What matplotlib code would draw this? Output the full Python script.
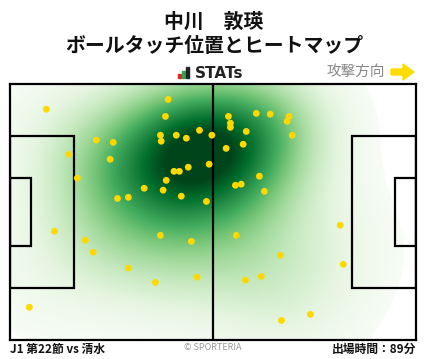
import numpy as np
import matplotlib
matplotlib.use("Agg")
import matplotlib.pyplot as plt
from matplotlib.patches import Rectangle, Polygon

plt.rcParams['font.family'] = ['Noto Sans CJK JP', 'DejaVu Sans']

player = "中川　敦瑛"
subtitle = "ボールタッチ位置とヒートマップ"
match_label = "J1 第22節 vs 清水"
minutes_label = "出場時間：89分"

# ball touches, pitch metres (x toward attack, y from bottom touchline)
touch_x = [9.4, 40.9, 40.2, 22.3, 26.7, 38.9, 39.1, 43.0, 45.6, 49.0,
           52.2, 15.3, 25.9, 17.4, 42.4, 43.8, 46.1, 51.5, 40.4, 34.7,
           39.6, 27.8, 30.6, 44.3, 50.8, 56.5, 63.7, 67.3, 72.2, 71.7,
           57.0, 57.0, 61.1, 73.0, 60.3, 55.9, 64.5, 58.3, 59.8, 65.8,
           11.5, 19.5, 21.5, 38.9, 46.9, 30.6, 37.6, 48.4, 5.0, 58.5,
           85.4, 69.9, 86.2, 60.9, 65.0, 77.7, 70.2]
touch_y = [61.3, 63.9, 59.4, 53.1, 52.5, 54.4, 52.8, 54.4, 53.6, 55.7,
           54.4, 49.3, 48.0, 43.0, 44.8, 44.8, 45.9, 46.7, 42.4, 40.3,
           39.8, 37.6, 37.9, 38.2, 36.8, 59.4, 60.2, 60.0, 59.4, 58.1,
           57.6, 56.5, 55.4, 54.4, 52.0, 50.9, 43.5, 41.1, 41.4, 39.5,
           28.9, 26.5, 23.3, 27.8, 26.2, 19.1, 15.3, 16.7, 8.7, 27.8,
           30.5, 22.5, 20.1, 15.9, 16.9, 6.8, 5.2]

L, W = 105.0, 68.0

W_PX, H_PX = 428, 359
fig = plt.figure(figsize=(W_PX / 100, H_PX / 100), dpi=100)


def fx(px):
    return px / W_PX


def fy(py):
    return 1 - py / H_PX


ax = fig.add_axes([fx(10), fy(340), (416 - 10) / W_PX, (340 - 84) / H_PX])

# heatmap: gaussian kernel density of the touches
tx = np.array(touch_x)
ty = np.array(touch_y)
gx, gy = np.meshgrid(np.linspace(0, L, 300), np.linspace(0, W, 200))
dens = np.zeros_like(gx)
bw_x, bw_y = 13.0, 12.0
for x0, y0 in zip(tx, ty):
    dens += np.exp(-((gx - x0) ** 2 / (2 * bw_x ** 2) + (gy - y0) ** 2 / (2 * bw_y ** 2)))
dens /= dens.max()
dens = dens ** 1.15
cmap = plt.get_cmap('Greens').copy()
cmap.set_under('white')
ax.imshow(dens, extent=[0, L, 0, W], origin='lower', cmap=cmap,
          vmin=0.03, vmax=0.92, interpolation='bilinear', aspect='auto', zorder=1)

# pitch lines
lc = 'black'
lw = 1.6
ax.plot([L / 2, L / 2], [0, W], color=lc, lw=lw, zorder=2)
pb_d, pb_w = 16.5, 40.3
ga_d, ga_w = 5.5, 18.3
for x0, d in [(0, pb_d), (L - pb_d, pb_d)]:
    ax.add_patch(Rectangle((x0, (W - pb_w) / 2), d, pb_w, fill=False, ec=lc, lw=lw, zorder=2))
for x0, d in [(0, ga_d), (L - ga_d, ga_d)]:
    ax.add_patch(Rectangle((x0, (W - ga_w) / 2), d, ga_w, fill=False, ec=lc, lw=lw, zorder=2))

ax.scatter(tx, ty, s=24, color='#ffd800', edgecolors='none', zorder=3)

ax.set_xlim(0, L)
ax.set_ylim(0, W)
ax.set_xticks([])
ax.set_yticks([])
for sp in ax.spines.values():
    sp.set_linewidth(1.6)
    sp.set_color('black')

# header
fig.text(0.5, fy(21), player, ha='center', va='center', fontsize=14.3, fontweight='bold', color='#111111')
fig.text(0.5, fy(46), subtitle, ha='center', va='center', fontsize=14.3, fontweight='bold', color='#111111')

# STATs logo
for x0, h, c in [(177.5, 4, '#e0262b'), (181.5, 7, '#2aa84a'), (186, 11, '#222222')]:
    fig.patches.append(Rectangle((fx(x0), fy(78)), 3 / W_PX, h / H_PX, color=c,
                                 transform=fig.transFigure, figure=fig))
fig.text(fx(195), fy(73), "STATs", ha='left', va='center', fontsize=11, fontweight='bold',
         color='#222222', family='DejaVu Sans')

fig.text(fx(385), fy(72), "攻撃方向", ha='right', va='center', fontsize=10.5, color='#888888')
arrow = [(391, 69), (403, 69), (403, 64), (414, 72), (403, 80), (403, 75), (391, 75)]
fig.patches.append(Polygon([(fx(a), fy(b)) for a, b in arrow], closed=True, color='#ffdd00',
                           transform=fig.transFigure, figure=fig))

# footer
fig.text(fx(10), fy(349), match_label, ha='left', va='center', fontsize=8.5, fontweight='bold', color='#111111')
fig.text(fx(213), fy(348), "© SPORTERIA", ha='center', va='center', fontsize=6.5, color='#999999')
fig.text(fx(416), fy(349), minutes_label, ha='right', va='center', fontsize=8.5, fontweight='bold', color='#111111')

fig.savefig("out.png", dpi=100)
